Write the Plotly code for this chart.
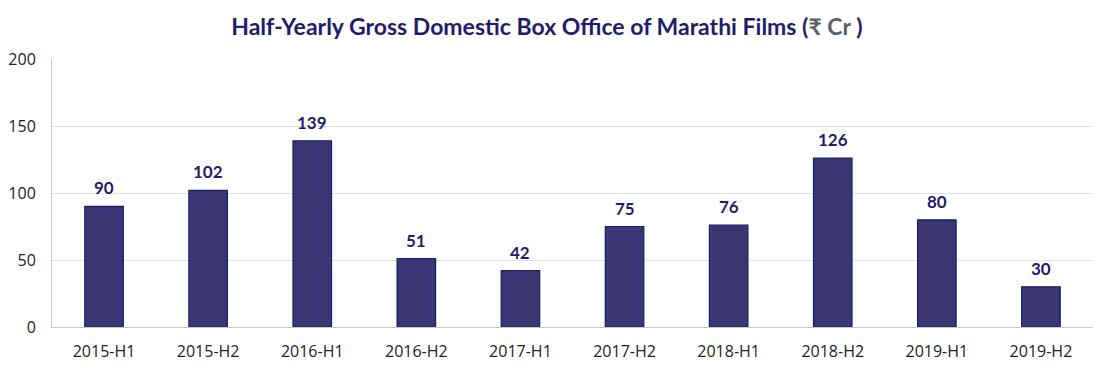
import plotly.graph_objects as go

categories = ["2015-H1", "2015-H2", "2016-H1", "2016-H2", "2017-H1",
              "2017-H2", "2018-H1", "2018-H2", "2019-H1", "2019-H2"]
values = [90, 102, 139, 51, 42, 75, 76, 126, 80, 30]
y_ticks = [0, 50, 100, 150, 200]

fig = go.Figure()
fig.add_trace(go.Bar(
    x=categories, y=values,
    marker=dict(color="#3b3573", line=dict(color="#1c1a6b", width=1.2)),
    width=0.37,
))

for c, v in zip(categories, values):
    fig.add_annotation(
        x=c, y=v, text=f"<b>{v}</b>", showarrow=False,
        yanchor="bottom", yshift=6,
        font=dict(family="Lato, Open Sans, sans-serif", size=17, color="#1f1d6b"),
    )

fig.update_layout(
    width=1102, height=373,
    margin=dict(l=44, r=17, t=51, b=54, autoexpand=False),
    paper_bgcolor="white", plot_bgcolor="white",
    title=dict(
        text="<b>Half-Yearly Gross Domestic Box Office of Marathi Films (<span style='color:#5a5f66'>₹ Cr</span> )</b>",
        x=0.489, xanchor="center", y=0.949, yanchor="middle",
        font=dict(family="Lato, Open Sans, sans-serif", size=23, color="#1f1d6b"),
    ),
    showlegend=False,
    xaxis=dict(
        showline=True, linecolor="#c4c8d0", linewidth=1,
        ticks="", tickfont=dict(family="Open Sans, sans-serif", size=16, color="#222"),
        showgrid=False, automargin=False, ticklabelstandoff=10,
    ),
    yaxis=dict(
        range=[0, 200], tickvals=y_ticks,
        showline=True, linecolor="#c4c8d0", linewidth=1,
        showgrid=True, gridcolor="#dfe3e8", gridwidth=1,
        zeroline=False, automargin=False,
        tickfont=dict(family="Open Sans, sans-serif", size=16, color="#222"),
        ticks="", ticklabelstandoff=12,
    ),
)

fig.write_html("out.html")
